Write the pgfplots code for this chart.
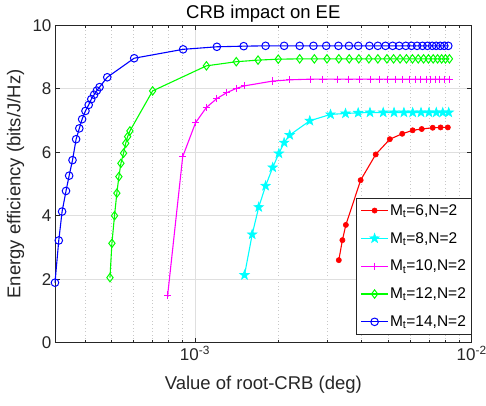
\documentclass[border=0pt]{standalone}
\usepackage{fontspec}
\setmainfont{Liberation Sans}
\usepackage{pgfplots}
\pgfplotsset{compat=1.18}
\usetikzlibrary{plotmarks}
\definecolor{axgray}{HTML}{262626}
\definecolor{gridmaj}{HTML}{DFDFDF}
\definecolor{gridmin}{HTML}{C8C8C8}
\definecolor{mred}{rgb}{1,0,0}
\definecolor{mcyan}{rgb}{0,1,1}
\definecolor{mmag}{rgb}{1,0,1}
\definecolor{mgreen}{rgb}{0,1,0}
\definecolor{mblue}{rgb}{0,0,1}

% filled five-pointed star, like the pentagram marker
\pgfdeclareplotmark{pentastar}{%
  \pgfpathmoveto{\pgfpointpolar{90}{\pgfplotmarksize}}%
  \pgfpathlineto{\pgfpointpolar{126}{0.4\pgfplotmarksize}}%
  \pgfpathlineto{\pgfpointpolar{162}{\pgfplotmarksize}}%
  \pgfpathlineto{\pgfpointpolar{198}{0.4\pgfplotmarksize}}%
  \pgfpathlineto{\pgfpointpolar{234}{\pgfplotmarksize}}%
  \pgfpathlineto{\pgfpointpolar{270}{0.4\pgfplotmarksize}}%
  \pgfpathlineto{\pgfpointpolar{306}{\pgfplotmarksize}}%
  \pgfpathlineto{\pgfpointpolar{342}{0.4\pgfplotmarksize}}%
  \pgfpathlineto{\pgfpointpolar{18}{\pgfplotmarksize}}%
  \pgfpathlineto{\pgfpointpolar{54}{0.4\pgfplotmarksize}}%
  \pgfpathclose
  \pgfusepathqfillstroke
}

\begin{document}
\begin{tikzpicture}
\begin{axis}[
    scale only axis,
    width=416.7pt, height=317.5pt,
    xmode=log,
    xmin=3.12e-4, xmax=1e-2,
    ymin=0, ymax=10,
    xtick={1e-3,1e-2},
    xticklabels={10\textsuperscript{-3},10\textsuperscript{-2}},
    minor xtick={4e-4,5e-4,6e-4,7e-4,8e-4,9e-4,2e-3,3e-3,4e-3,5e-3,6e-3,7e-3,8e-3,9e-3},
    ytick={0,2,4,6,8,10},
    yticklabels={0,2,4,6,8,10},
    grid=both,
    major grid style={gridmaj, line width=0.6pt},
    minor grid style={gridmin, line width=0.6pt, dash pattern=on 1pt off 2.5pt},
    tick align=inside,
    major tick length=5pt,
    minor tick length=3pt,
    tick style={axgray, line width=0.6pt},
    axis line style={axgray, line width=0.7pt},
    tick label style={font=\fontsize{17}{20}\selectfont, text=axgray},
    title={CRB impact on EE},
    every axis title/.style={at={(axis description cs:0.5,1.0356)}, anchor=center, font=\fontsize{18.5}{22}\selectfont},
    xlabel={Value of root-CRB (deg)},
    ylabel={Energy efficiency (bits/J/Hz)},
    every axis x label/.style={at={(axis description cs:0.5,-0.131)}, anchor=center, font=\fontsize{18.5}{22}\selectfont, text=axgray},
    every axis y label/.style={at={(axis description cs:-0.0948,0.5)}, rotate=90, anchor=center, font=\fontsize{18.5}{22}\selectfont, text=axgray},
    legend cell align=left,
    legend style={at={(1,0)}, anchor=south east, yshift=8.4pt,
        draw=axgray, line width=0.6pt, fill=white,
        font=\fontsize{15.5}{18}\selectfont,
        inner xsep=4pt, inner ysep=4.5pt, row sep=12.5pt, column sep=0pt,
        nodes={inner sep=1.5pt}},
    legend image code/.code={\draw[mark repeat=2,mark phase=2,#1] plot coordinates {(0pt,0pt) (13.35pt,0pt) (26.7pt,0pt)};},
    clip=false,
    every axis plot/.append style={line width=1.1pt},
]

% M_t = 6
\addplot[mred, mark=*, mark size=2.6pt, mark options={fill=mred, line width=0.6pt}] coordinates {
    (3.31e-3,2.60) (3.41e-3,3.23) (3.51e-3,3.71) (3.97e-3,5.12) (4.50e-3,5.93)
    (5.06e-3,6.41) (5.61e-3,6.58) (6.12e-3,6.69) (6.60e-3,6.73) (7.23e-3,6.77)
    (7.72e-3,6.78) (8.20e-3,6.78)
};
\addlegendentry{M\textsubscript{t}=6,N=2}

% M_t = 8
\addplot[mcyan, mark=pentastar, mark size=5pt, mark options={fill=mcyan, line width=0.6pt}] coordinates {
    (1.51e-3,2.13) (1.61e-3,3.41) (1.70e-3,4.27) (1.80e-3,4.94) (1.91e-3,5.52)
    (2.01e-3,5.96) (2.10e-3,6.30) (2.20e-3,6.54) (2.60e-3,6.99) (3.09e-3,7.19)
    (3.50e-3,7.22) (3.89e-3,7.24) (4.29e-3,7.25) (4.79e-3,7.25) (5.24e-3,7.25)
    (5.69e-3,7.25) (6.12e-3,7.25) (6.56e-3,7.25) (7.01e-3,7.25) (7.45e-3,7.25)
    (7.86e-3,7.25) (8.26e-3,7.25)
};
\addlegendentry{M\textsubscript{t}=8,N=2}

% M_t = 10
\addplot[mmag, mark=+, mark size=3.6pt, mark options={line width=1pt}] coordinates {
    (7.97e-4,1.50) (9.03e-4,5.86) (1.005e-3,6.93) (1.10e-3,7.41) (1.20e-3,7.69)
    (1.30e-3,7.87) (1.41e-3,8.01) (1.51e-3,8.09) (1.91e-3,8.24) (2.20e-3,8.28)
    (2.61e-3,8.30) (2.90e-3,8.30) (3.27e-3,8.30) (3.60e-3,8.30) (3.94e-3,8.30)
    (4.31e-3,8.30) (4.65e-3,8.30) (4.98e-3,8.30) (5.30e-3,8.30) (5.62e-3,8.30)
    (5.94e-3,8.30) (6.25e-3,8.30) (6.55e-3,8.30) (6.85e-3,8.30) (7.12e-3,8.30)
    (7.40e-3,8.30) (7.68e-3,8.30) (7.96e-3,8.30) (8.29e-3,8.30)
};
\addlegendentry{M\textsubscript{t}=10,N=2}

% M_t = 12
\addplot[mgreen, mark=diamond, mark size=4.2pt, mark options={line width=1pt}] coordinates {
    (4.93e-4,2.05) (5.01e-4,3.13) (5.12e-4,4.00) (5.22e-4,4.71) (5.31e-4,5.23)
    (5.40e-4,5.65) (5.52e-4,5.97) (5.62e-4,6.28) (5.71e-4,6.49) (5.82e-4,6.67)
    (7.03e-4,7.93) (1.10e-3,8.72) (1.41e-3,8.85) (1.69e-3,8.90) (2.00e-3,8.93)
    (2.39e-3,8.94) (2.70e-3,8.94) (3.00e-3,8.94) (3.31e-3,8.94) (3.61e-3,8.94)
    (3.91e-3,8.94) (4.25e-3,8.94) (4.58e-3,8.94) (4.94e-3,8.94) (5.22e-3,8.94)
    (5.51e-3,8.94) (5.81e-3,8.94) (6.11e-3,8.94) (6.41e-3,8.94) (6.70e-3,8.94)
    (6.98e-3,8.94) (7.26e-3,8.94) (7.53e-3,8.94) (7.79e-3,8.94) (8.04e-3,8.94)
    (8.31e-3,8.94)
};
\addlegendentry{M\textsubscript{t}=12,N=2}

% M_t = 14
\addplot[mblue, mark=o, mark size=3.8pt, mark options={line width=1pt}] coordinates {
    (3.12e-4,1.89) (3.22e-4,3.22) (3.31e-4,4.13) (3.42e-4,4.78) (3.51e-4,5.26)
    (3.61e-4,5.75) (3.72e-4,6.41) (3.82e-4,6.75) (3.91e-4,7.04) (4.02e-4,7.30)
    (4.13e-4,7.49) (4.22e-4,7.67) (4.32e-4,7.81) (4.42e-4,7.94) (4.52e-4,8.05)
    (4.82e-4,8.36) (6.03e-4,8.96) (9.06e-4,9.24) (1.20e-3,9.32) (1.50e-3,9.34)
    (1.80e-3,9.35) (2.10e-3,9.35) (2.39e-3,9.35) (2.68e-3,9.35) (2.98e-3,9.35)
    (3.30e-3,9.35) (3.60e-3,9.35) (3.89e-3,9.35) (4.27e-3,9.35) (4.58e-3,9.35)
    (4.88e-3,9.35) (5.18e-3,9.35) (5.47e-3,9.35) (5.78e-3,9.35) (6.06e-3,9.35)
    (6.35e-3,9.35) (6.64e-3,9.35) (6.92e-3,9.35) (7.20e-3,9.35) (7.44e-3,9.35)
    (7.70e-3,9.35) (7.96e-3,9.35) (8.23e-3,9.35)
};
\addlegendentry{M\textsubscript{t}=14,N=2}

\end{axis}
\pgfresetboundingbox
\useasboundingbox (-55pt,-62.3pt) rectangle (431pt,342.7pt);
\end{tikzpicture}
\end{document}
